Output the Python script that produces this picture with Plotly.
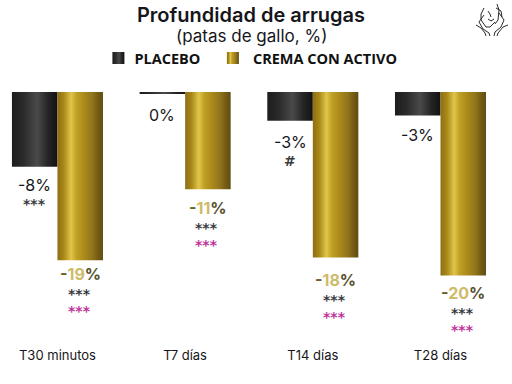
import plotly.graph_objects as go

categories = ["T30 minutos", "T7 días", "T14 días", "T28 días"]
placebo = [-8.3, -0.15, -3.2, -2.6]
active = [-18.7, -10.8, -18.4, -20.4]
series_names = ["PLACEBO", "CREMA CON ACTIVO"]
placebo_labels = ["-8%", "0%", "-3%", "-3%"]
active_labels = ["-19%", "-11%", "-18%", "-20%"]
placebo_marks = ["***", "", "#", ""]
active_marks = ["***", "***", "***", "***"]
active_marks_2 = ["***", "***", "***", "***"]
title_text = "Profundidad de arrugas"
subtitle_text = "(patas de gallo, %)"

FONT = "Inter, DejaVu Sans, sans-serif"
INK = "#16161a"
PINK = "#c0339a"
MARK = "#3a3a3e"
SHIFT = 22.75
TOP = 92
BOTTOM = 345


def tinted(label):
    """Gold labels fade from dark at the edges to pale gold on the digits."""
    digits = label[1:-1]
    return (f'<span style="color:#6e5f2a">{label[0]}</span>'
            f'<span style="color:#cdbb6a">{digits}</span>'
            f'<span style="color:#57502f">{label[-1]}</span>')


fig = go.Figure()
fig.add_bar(x=categories, y=placebo, name=series_names[0] + "\u00a0\u00a0", marker_color="#222222", marker_line_width=0, showlegend=True)
fig.add_bar(x=categories, y=active, name=series_names[1], marker_color="#b0901e", marker_line_width=0, showlegend=True)

label_drop_p = [18, 22, 21, 20]
label_drop_a = [14, 19, 22, 17]
annotations = []


def note(cat, val, text, xs, drop, size, color, family=FONT):
    annotations.append(dict(x=cat, y=val, xref="x", yref="y", text=text, showarrow=False,
                            xshift=xs, yshift=-drop, xanchor="center", yanchor="middle",
                            font=dict(size=size, color=color, family=family)))


for i, cat in enumerate(categories):
    note(cat, placebo[i], placebo_labels[i], -SHIFT, label_drop_p[i], 16, INK)
    if placebo_marks[i]:
        note(cat, placebo[i], f"<b>{placebo_marks[i]}</b>", -SHIFT, label_drop_p[i] + 19, 14, MARK, "DejaVu Sans")
    note(cat, active[i], f"<b>{tinted(active_labels[i])}</b>", SHIFT, label_drop_a[i], 16, INK)
    note(cat, active[i], f"<b>{active_marks[i]}</b>", SHIFT - 1, label_drop_a[i] + 20, 14, MARK, "DejaVu Sans")
    note(cat, active[i], f"<b>{active_marks_2[i]}</b>", SHIFT - 1, label_drop_a[i] + 37, 14, PINK, "DejaVu Sans")

annotations.append(dict(x=251 / 512, y=1 - (36 - TOP) / (BOTTOM - TOP), xref="paper", yref="paper",
                        text=subtitle_text, showarrow=False, xanchor="center", yanchor="middle",
                        font=dict(family=FONT, size=17, color=INK, weight=400)))


# Decorative line icon, top right (paper coordinates from pixel positions)
def P(x, y):
    return f"{x/512:.4f} {1-(y-TOP)/(BOTTOM-TOP):.4f}"


icon = [
    [(484, 8), (481, 14), (481, 20), (486, 27), (490, 27), (495, 22)],
    [(497, 4), (499, 10), (498, 20), (495, 24)],
    [(476, 25), (481, 28), (485, 33), (486, 36)],
    [(508, 25), (503, 27), (498, 33), (497, 36)],
    [(484, 15), (479, 22), (483, 29), (489, 33), (490, 36)],
    [(499, 13), (504, 20), (501, 27), (495, 32), (494, 36)],
    [(488, 11), (490, 14), (491, 17)],
    [(488, 19), (491, 21), (494, 19)],
    [(496, 8), (501, 11), (502, 17)],
]
shapes = []
for pts in icon:
    path = "M" + " L".join(P(*p) for p in pts)
    shapes.append(dict(type="path", xref="paper", yref="paper", path=path,
                       line=dict(color="#2a2a2a", width=1)))

fig.update_layout(
    width=512, height=384,
    margin=dict(l=0, r=0, t=TOP, b=384 - BOTTOM),
    paper_bgcolor="white", plot_bgcolor="white",
    barmode="group", bargap=0.287, bargroupgap=0,
    title=dict(text=title_text, x=251 / 512, xanchor="center", xref="container",
               y=1 - 15 / 384, yanchor="middle", yref="container",
               font=dict(family=FONT, size=20, color=INK, weight=600)),
    legend=dict(orientation="h", x=0.1844, xanchor="left", y=1 - 58 / 384, yref="container", yanchor="middle",
                traceorder="normal",
                font=dict(family="Open Sans, sans-serif", size=14.5, color="#111111", weight=700),
                bgcolor="rgba(0,0,0,0)"),
    xaxis=dict(type="category", range=[-0.45, 3.56], showline=False, showgrid=False, zeroline=False,
               ticks="", tickfont=dict(family=FONT, size=13, color=INK), ticklabelstandoff=1),
    yaxis=dict(range=[(TOP - BOTTOM) / 9.0, 0], visible=False, showgrid=False, zeroline=False),
    annotations=annotations, shapes=shapes,
)

post = r"""
document.documentElement.style.margin='0';document.body.style.margin='0';document.body.style.overflow='hidden';
var gd=document.getElementById('{plot_id}');
var NS='http://www.w3.org/2000/svg';
var svg=gd.querySelector('.main-svg');
var defs=document.createElementNS(NS,'defs');
function grad(id,stops){var g=document.createElementNS(NS,'linearGradient');g.setAttribute('id',id);
 g.setAttribute('x1','0');g.setAttribute('x2','1');g.setAttribute('y1','0');g.setAttribute('y2','0');
 stops.forEach(function(s){var e=document.createElementNS(NS,'stop');e.setAttribute('offset',s[0]);e.setAttribute('stop-color',s[1]);g.appendChild(e);});
 defs.appendChild(g);}
grad('gDark',[[0,'#1d1d1d'],[0.25,'#2a2a2a'],[0.55,'#4a4a4a'],[0.8,'#242424'],[1,'#131313']]);
grad('gGold',[[0,'#8d6e14'],[0.14,'#a98818'],[0.3,'#e0c54c'],[0.42,'#c0a024'],[0.6,'#a9881c'],[0.76,'#92751c'],[0.9,'#735a14'],[1,'#604c12']]);
svg.insertBefore(defs,svg.firstChild);
var ids=['gDark','gGold'], move=[24,20];
gd.querySelectorAll('.barlayer .trace.bars').forEach(function(t,i){t.querySelectorAll('.point path').forEach(function(p){p.style.fill='url(#'+ids[i]+')';});});
gd.querySelectorAll('.legend .traces').forEach(function(t,i){t.querySelectorAll('.legendpoints path').forEach(function(p){p.style.fill='url(#'+ids[i]+')';p.setAttribute('transform','translate('+move[i]+',0)');});});
"""
fig.write_html("out.html", post_script=post, config=dict(displayModeBar=False))
